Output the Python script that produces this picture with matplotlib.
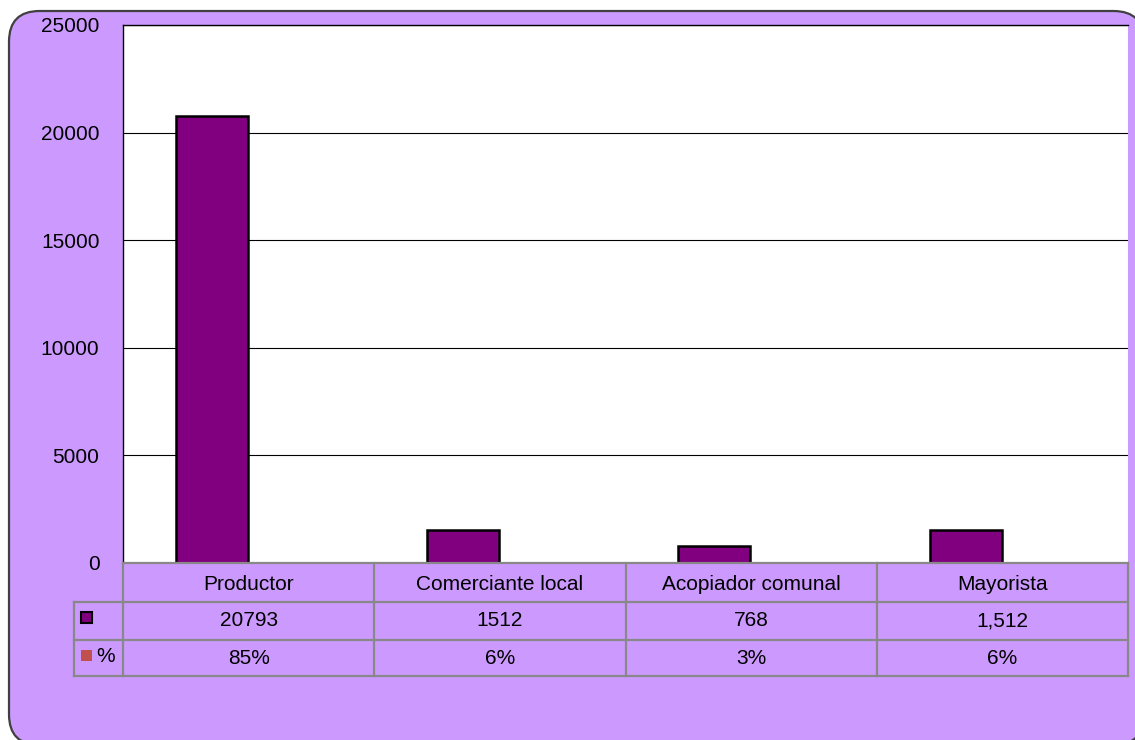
import matplotlib
matplotlib.use('Agg')
import matplotlib.pyplot as plt
from matplotlib.patches import FancyBboxPatch, Rectangle
from matplotlib.transforms import blended_transform_factory

plt.rcParams['font.family'] = ['Liberation Sans', 'DejaVu Sans']

categories = ['Productor', 'Comerciante local', 'Acopiador comunal', 'Mayorista']
values = [20793, 1512, 768, 1512]
value_labels = ['20793', '1512', '768', '1,512']
pct = [0.85, 0.06, 0.03, 0.06]
pct_labels = ['85%', '6%', '3%', '6%']

PURPLE = '#800080'
RED = '#C0504D'
BG = '#CC99FF'
GRID = '#888888'

W, H = 1135, 740
fig = plt.figure(figsize=(W / 100, H / 100), dpi=100)
fig.patch.set_facecolor('white')

# rounded chart area, partly cut by the right and bottom edges
bg = FancyBboxPatch((9 / W, -5 / H), 1135 / W, (H - 11 + 5) / H,
                    boxstyle='round,pad=0,rounding_size=0.027',
                    transform=fig.transFigure, facecolor=BG,
                    edgecolor='#404040', lw=1.6, zorder=0,
                    mutation_aspect=W / H)
fig.add_artist(bg)

ax = fig.add_axes([123 / W, (H - 563) / H, 1005 / W, 538 / H])
ax.set_facecolor('white')
x = list(range(len(categories)))
off = 0.146
ax.bar([i - off for i in x], values, width=0.287, color=PURPLE,
       edgecolor='black', lw=1.8, zorder=3)
# percentage series shares the axis, too small to show at this scale
ax.bar([i + off for i in x], pct, width=0.287, color=RED, lw=0, zorder=3)
ax.set_xlim(-0.5, len(categories) - 0.5)
ax.set_ylim(0, 25000)
ax.set_yticks(range(0, 25001, 5000))
ax.tick_params(axis='y', length=0, pad=17, labelsize=15)
ax.set_xticks([])
ax.yaxis.grid(True, color='black', lw=0.8)
ax.set_axisbelow(True)
for side in ('right', 'bottom'):
    ax.spines[side].set_visible(False)
for side in ('top', 'left'):
    ax.spines[side].set_color('black')
    ax.spines[side].set_linewidth(1.0)

# data table below the axis
tr = blended_transform_factory(ax.transData, ax.transAxes)
ph = 538.0
r0, r1, r2, r3 = 0, -39 / ph, -77 / ph, -113 / ph
leg_l = -0.5 - 49 / 251.25
right = len(categories) - 0.5
lk = dict(color=GRID, lw=1.6, transform=tr, clip_on=False, zorder=5)
ax.plot([-0.5, right], [r0, r0], **lk)
for y in (r1, r2, r3):
    ax.plot([leg_l, right], [y, y], **lk)
ax.plot([leg_l, leg_l], [r1, r3], **lk)
for b in [i - 0.5 for i in range(len(categories) + 1)]:
    ax.plot([b, b], [r0, r3], **lk)

fs = 15
for i, cat in enumerate(categories):
    ax.text(i, (r0 + r1) / 2 - 0.003, cat, ha='center', va='center',
            fontsize=fs, transform=tr, clip_on=False)
    ax.text(i, (r1 + r2) / 2, value_labels[i], ha='center', va='center',
            fontsize=fs, transform=tr, clip_on=False)
    ax.text(i, (r2 + r3) / 2, pct_labels[i], ha='center', va='center',
            fontsize=fs, transform=tr, clip_on=False)

# legend keys in the first column
fig.add_artist(Rectangle((81 / W, (H - 623) / H), 11 / W, 11 / H,
                         transform=fig.transFigure, facecolor=PURPLE,
                         edgecolor='black', lw=1.5))
fig.add_artist(Rectangle((81 / W, (H - 661) / H), 11 / W, 11 / H,
                         transform=fig.transFigure, facecolor=RED,
                         edgecolor='none'))
fig.text(96 / W, (H - 656) / H, '%', ha='left', va='center', fontsize=fs)

fig.savefig('out.png', dpi=100, facecolor=fig.get_facecolor())
